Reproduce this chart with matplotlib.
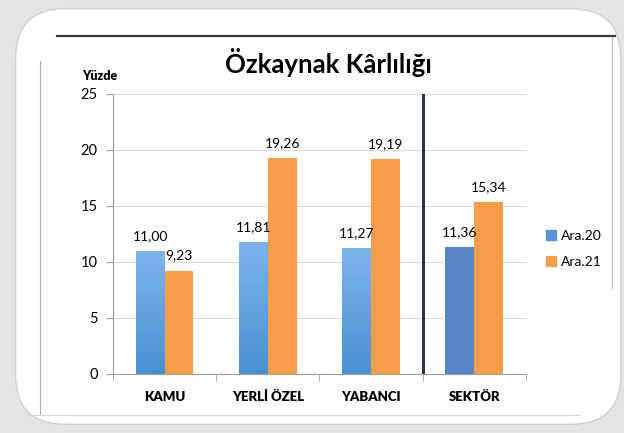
import matplotlib
matplotlib.use('Agg')
import matplotlib.pyplot as plt
import numpy as np
from matplotlib.patches import FancyBboxPatch
from matplotlib.lines import Line2D

categories = ['KAMU', 'YERLİ ÖZEL', 'YABANCI', 'SEKTÖR']
ara20 = [11.00, 11.81, 11.27, 11.36]
ara21 = [9.23, 19.26, 19.19, 15.34]
labels20 = ['11,00', '11,81', '11,27', '11,36']
labels21 = ['9,23', '19,26', '19,19', '15,34']

plt.rcParams['font.family'] = ['Lato', 'DejaVu Sans']

fig = plt.figure(figsize=(6.24, 4.33), dpi=100)
fig.patch.set_facecolor('#e4e4e4')

# white rounded card and inner chart frame
card = FancyBboxPatch((0.025, 0.02), 0.97, 0.96, boxstyle='round,pad=0,rounding_size=0.08',
                      transform=fig.transFigure, facecolor='white', edgecolor='#d0d0d0',
                      linewidth=1.0, mutation_aspect=624 / 433, zorder=-5)
fig.patches.append(card)
fig.lines.append(Line2D([0.092, 0.985], [0.918, 0.918], transform=fig.transFigure,
                        color='#3a3a3a', linewidth=1.6))
fig.lines.append(Line2D([0.064, 0.064], [0.045, 0.86], transform=fig.transFigure,
                        color='#b0b0b0', linewidth=0.8))
fig.lines.append(Line2D([0.04, 0.93], [0.042, 0.042], transform=fig.transFigure,
                        color='#d8d8d8', linewidth=0.8))
fig.lines.append(Line2D([0.981, 0.981], [0.335, 0.915], transform=fig.transFigure,
                        color='#b8b8b8', linewidth=0.8))

ax = fig.add_axes([0.181, 0.1363, 0.662, 0.647])
ax.set_zorder(5)
ax.patch.set_alpha(0)
x = np.arange(len(categories))
w = 0.28

def grad_bar(ax, xc, h, top, bottom):
    bar = ax.bar(xc, h, w, color='none', edgecolor='none', zorder=3)[0]
    cmap = matplotlib.colors.LinearSegmentedColormap.from_list('g', [bottom, top])
    im = ax.imshow(np.linspace(0, 1, 100).reshape(-1, 1), cmap=cmap, aspect='auto',
                   extent=[xc - w / 2, xc + w / 2, 0, h], origin='lower', zorder=3)
    im.set_clip_path(bar)

for i in range(len(categories)):
    if i < 3:
        grad_bar(ax, x[i] - w / 2, ara20[i], '#7db5ea', '#4a90d2')
    else:
        ax.bar(x[i] - w / 2, ara20[i], w, color='#5686c6', zorder=3)
    ax.bar(x[i] + w / 2, ara21[i], w, color='#f89d4b', zorder=3)
    ax.text(x[i] - w / 2, ara20[i] + 0.8, labels20[i], ha='center', va='bottom', fontsize=10)
    ax.text(x[i] + w / 2, ara21[i] + 0.8, labels21[i], ha='center', va='bottom', fontsize=10)

ax.axvline(2.5, ymin=0, ymax=1, color='#2b3445', linewidth=2.2, zorder=4)

ax.set_xlim(-0.5, 3.5)
ax.set_ylim(0, 25)
ax.set_yticks([0, 5, 10, 15, 20, 25])
ax.grid(axis='y', color='#dcdcdc', linewidth=0.8, zorder=0)
ax.set_axisbelow(True)
ax.set_xticks(x)
ax.set_xticklabels(categories, fontsize=9.5, fontweight='heavy')
ax.set_xticks([-0.5, 0.5, 1.5, 2.5, 3.5], minor=True)
ax.tick_params(axis='x', which='major', length=0, pad=12)
ax.tick_params(axis='x', which='minor', length=5, color='#a0a0a0')
ax.tick_params(axis='y', length=5, color='#a0a0a0', labelsize=10.5, pad=6)
for s in ['top', 'right']:
    ax.spines[s].set_visible(False)
ax.spines['left'].set_color('#a0a0a0')
ax.spines['bottom'].set_color('#a0a0a0')

fig.text(0.527, 0.855, 'Özkaynak Kârlılığı', ha='center', va='center', fontsize=18.5, fontweight='bold')
fig.text(0.16, 0.825, 'Yüzde', ha='center', va='center', fontsize=9, fontweight='heavy')

handles = [plt.Rectangle((0, 0), 1, 1, color='#5a93d4'), plt.Rectangle((0, 0), 1, 1, color='#f89d4b')]
fig.legend(handles, ['Ara.20', 'Ara.21'], loc='center left', bbox_to_anchor=(0.855, 0.425),
           frameon=False, fontsize=10, handlelength=0.7, handleheight=0.7, handletextpad=0.4,
           labelspacing=1.0)

fig.savefig('out.png', dpi=100, facecolor=fig.get_facecolor())
